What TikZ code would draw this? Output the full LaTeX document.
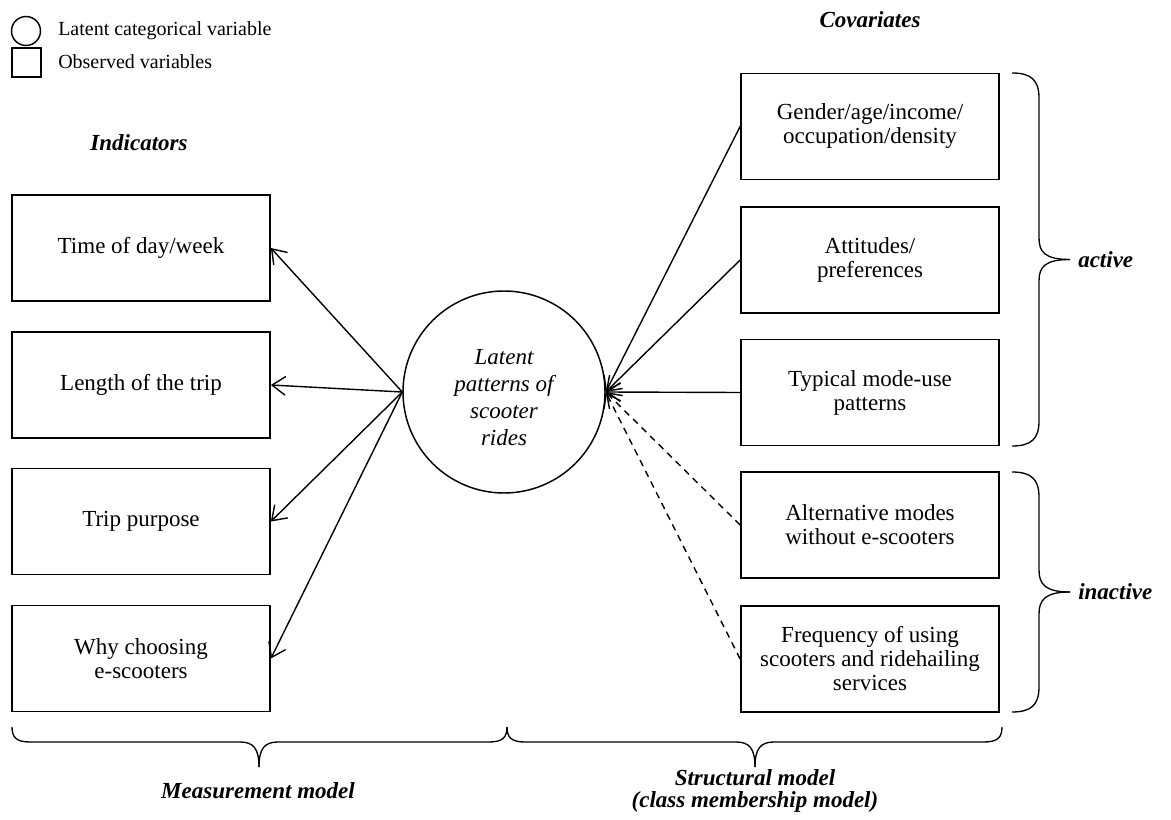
\documentclass[tikz,border=0pt]{standalone}
\usepackage{fontspec}
\setmainfont{Liberation Serif}
\usepackage{tikz}
\usetikzlibrary{arrows.meta}

\begin{document}
\begin{tikzpicture}[x=0.75pt,y=0.75pt,yscale=-1,xscale=1,
    obs/.style={draw, line width=1.3pt, minimum width=193.5pt, minimum height=79.5pt, inner sep=0pt, align=center, font=\fontsize{17.25}{18}\selectfont},
    lat/.style={draw, circle, line width=1.1pt, minimum size=151.5pt, inner sep=0pt},
    lattext/.style={inner sep=0.75pt, align=center, font=\fontsize{17.25}{20.25}\selectfont\itshape},
    head/.style={inner sep=0.75pt, align=center, font=\fontsize{17.25}{16.5}\selectfont\bfseries\itshape},
    legtext/.style={anchor=west, inner sep=0.75pt, font=\fontsize{15}{18}\selectfont},
    link/.style={line width=1.05pt, -{Straight Barb[length=10pt,width=14pt]}},
    inlink/.style={link, dash pattern=on 5pt off 4pt},
    curly/.style={line width=1pt}
]
%set diagram size: 1171 x 820
\useasboundingbox (0,0) rectangle (1171,820);

%Legend
\draw (26,31) node [draw, circle, line width=1.1pt, minimum size=21.75pt, inner sep=0pt] (legcirc) {};
\draw (26.5,62.5) node [draw, line width=1.1pt, minimum size=21.75pt, inner sep=0pt] (legbox) {};
% Text Node
\draw (57,31) node [legtext] (legcirctxt) {Latent categorical variable};
% Text Node
\draw (57,62) node [legtext] (legboxtxt) {Observed variables};

% Text Node
\draw (139,143) node [head] (indic) {Indicators};
% Text Node
\draw (870,20) node [head] (covar) {Covariates};

%Shape: Circle
\draw (504,392) node [lat] (scoot) {};
% Text Node
\draw (504,398) node [lattext] (scoottxt) {Latent\\patterns of\\scooter\\rides};

%Indicators
\draw (141,248) node [obs] (tod) {Time of day/week};
\draw (141,385) node [obs] (len) {Length of the trip};
\draw (141,521.5) node [obs] (purp) {Trip purpose};
\draw (141,658.5) node [obs] (why) {Why choosing\\e-scooters};

%Covariates
\draw (870,126.5) node [obs] (socio) {Gender/age/income/\\occupation/density};
\draw (870,260) node [obs] (attit) {Attitudes/\\preferences};
\draw (870,392.5) node [obs] (modeuse) {Typical mode-use\\patterns};
\draw (870,525) node [obs] (altmode) {Alternative modes\\without e-scooters};
\draw (870,659) node [obs] (freq) {Frequency of using\\scooters and ridehailing\\services};

%Straight Lines
\draw [link] (scoot.west) -- (tod.east);
\draw [link] (scoot.west) -- (len.east);
\draw [link] (scoot.west) -- (purp.east);
\draw [link] (scoot.west) -- (why.east);
\draw [link] (socio.west) -- (scoot.east);
\draw [link] (attit.west) -- (scoot.east);
\draw [link] (modeuse.west) -- (scoot.east);
\draw [inlink] (altmode.west) -- (scoot.east);
\draw [inlink] (freq.west) -- (scoot.east);

%Curve Lines: active
\draw [curly] (1012,73) .. controls (1031,73) and (1039,80) .. (1039,98) -- (1039,238) .. controls (1039,252) and (1045,259.5) .. (1070,259.5) ;
\draw [curly] (1012,446) .. controls (1031,446) and (1039,439) .. (1039,421) -- (1039,281) .. controls (1039,267) and (1045,259.5) .. (1070,259.5) ;
%Curve Lines: inactive
\draw [curly] (1012,472) .. controls (1031,472) and (1039,479) .. (1039,497) -- (1039,570) .. controls (1039,584) and (1045,592) .. (1070,592) ;
\draw [curly] (1012,712) .. controls (1031,712) and (1039,705) .. (1039,687) -- (1039,614) .. controls (1039,600) and (1045,592) .. (1070,592) ;
%Curve Lines: measurement
\draw [curly] (12,727) .. controls (12,737) and (16,742) .. (30,742) -- (240,742) .. controls (253,742) and (259,748) .. (259,767) ;
\draw [curly] (507,727) .. controls (507,737) and (503,742) .. (489,742) -- (278,742) .. controls (265,742) and (259,748) .. (259,767) ;
%Curve Lines: structural
\draw [curly] (507,727) .. controls (507,737) and (511,742) .. (525,742) -- (736,742) .. controls (749,742) and (755,748) .. (755,767) ;
\draw [curly] (1002,727) .. controls (1002,737) and (998,742) .. (984,742) -- (774,742) .. controls (761,742) and (755,748) .. (755,767) ;

% Text Node
\draw (1077,259.5) node [head, anchor=west] (actv) {active};
% Text Node
\draw (1077,592) node [head, anchor=west] (inactv) {inactive};
% Text Node
\draw (258,791) node [head] (measm) {Measurement model};
% Text Node
\draw (755,791) node [head] (structm) {Structural model\\(class membership model)};

\end{tikzpicture}
\end{document}
